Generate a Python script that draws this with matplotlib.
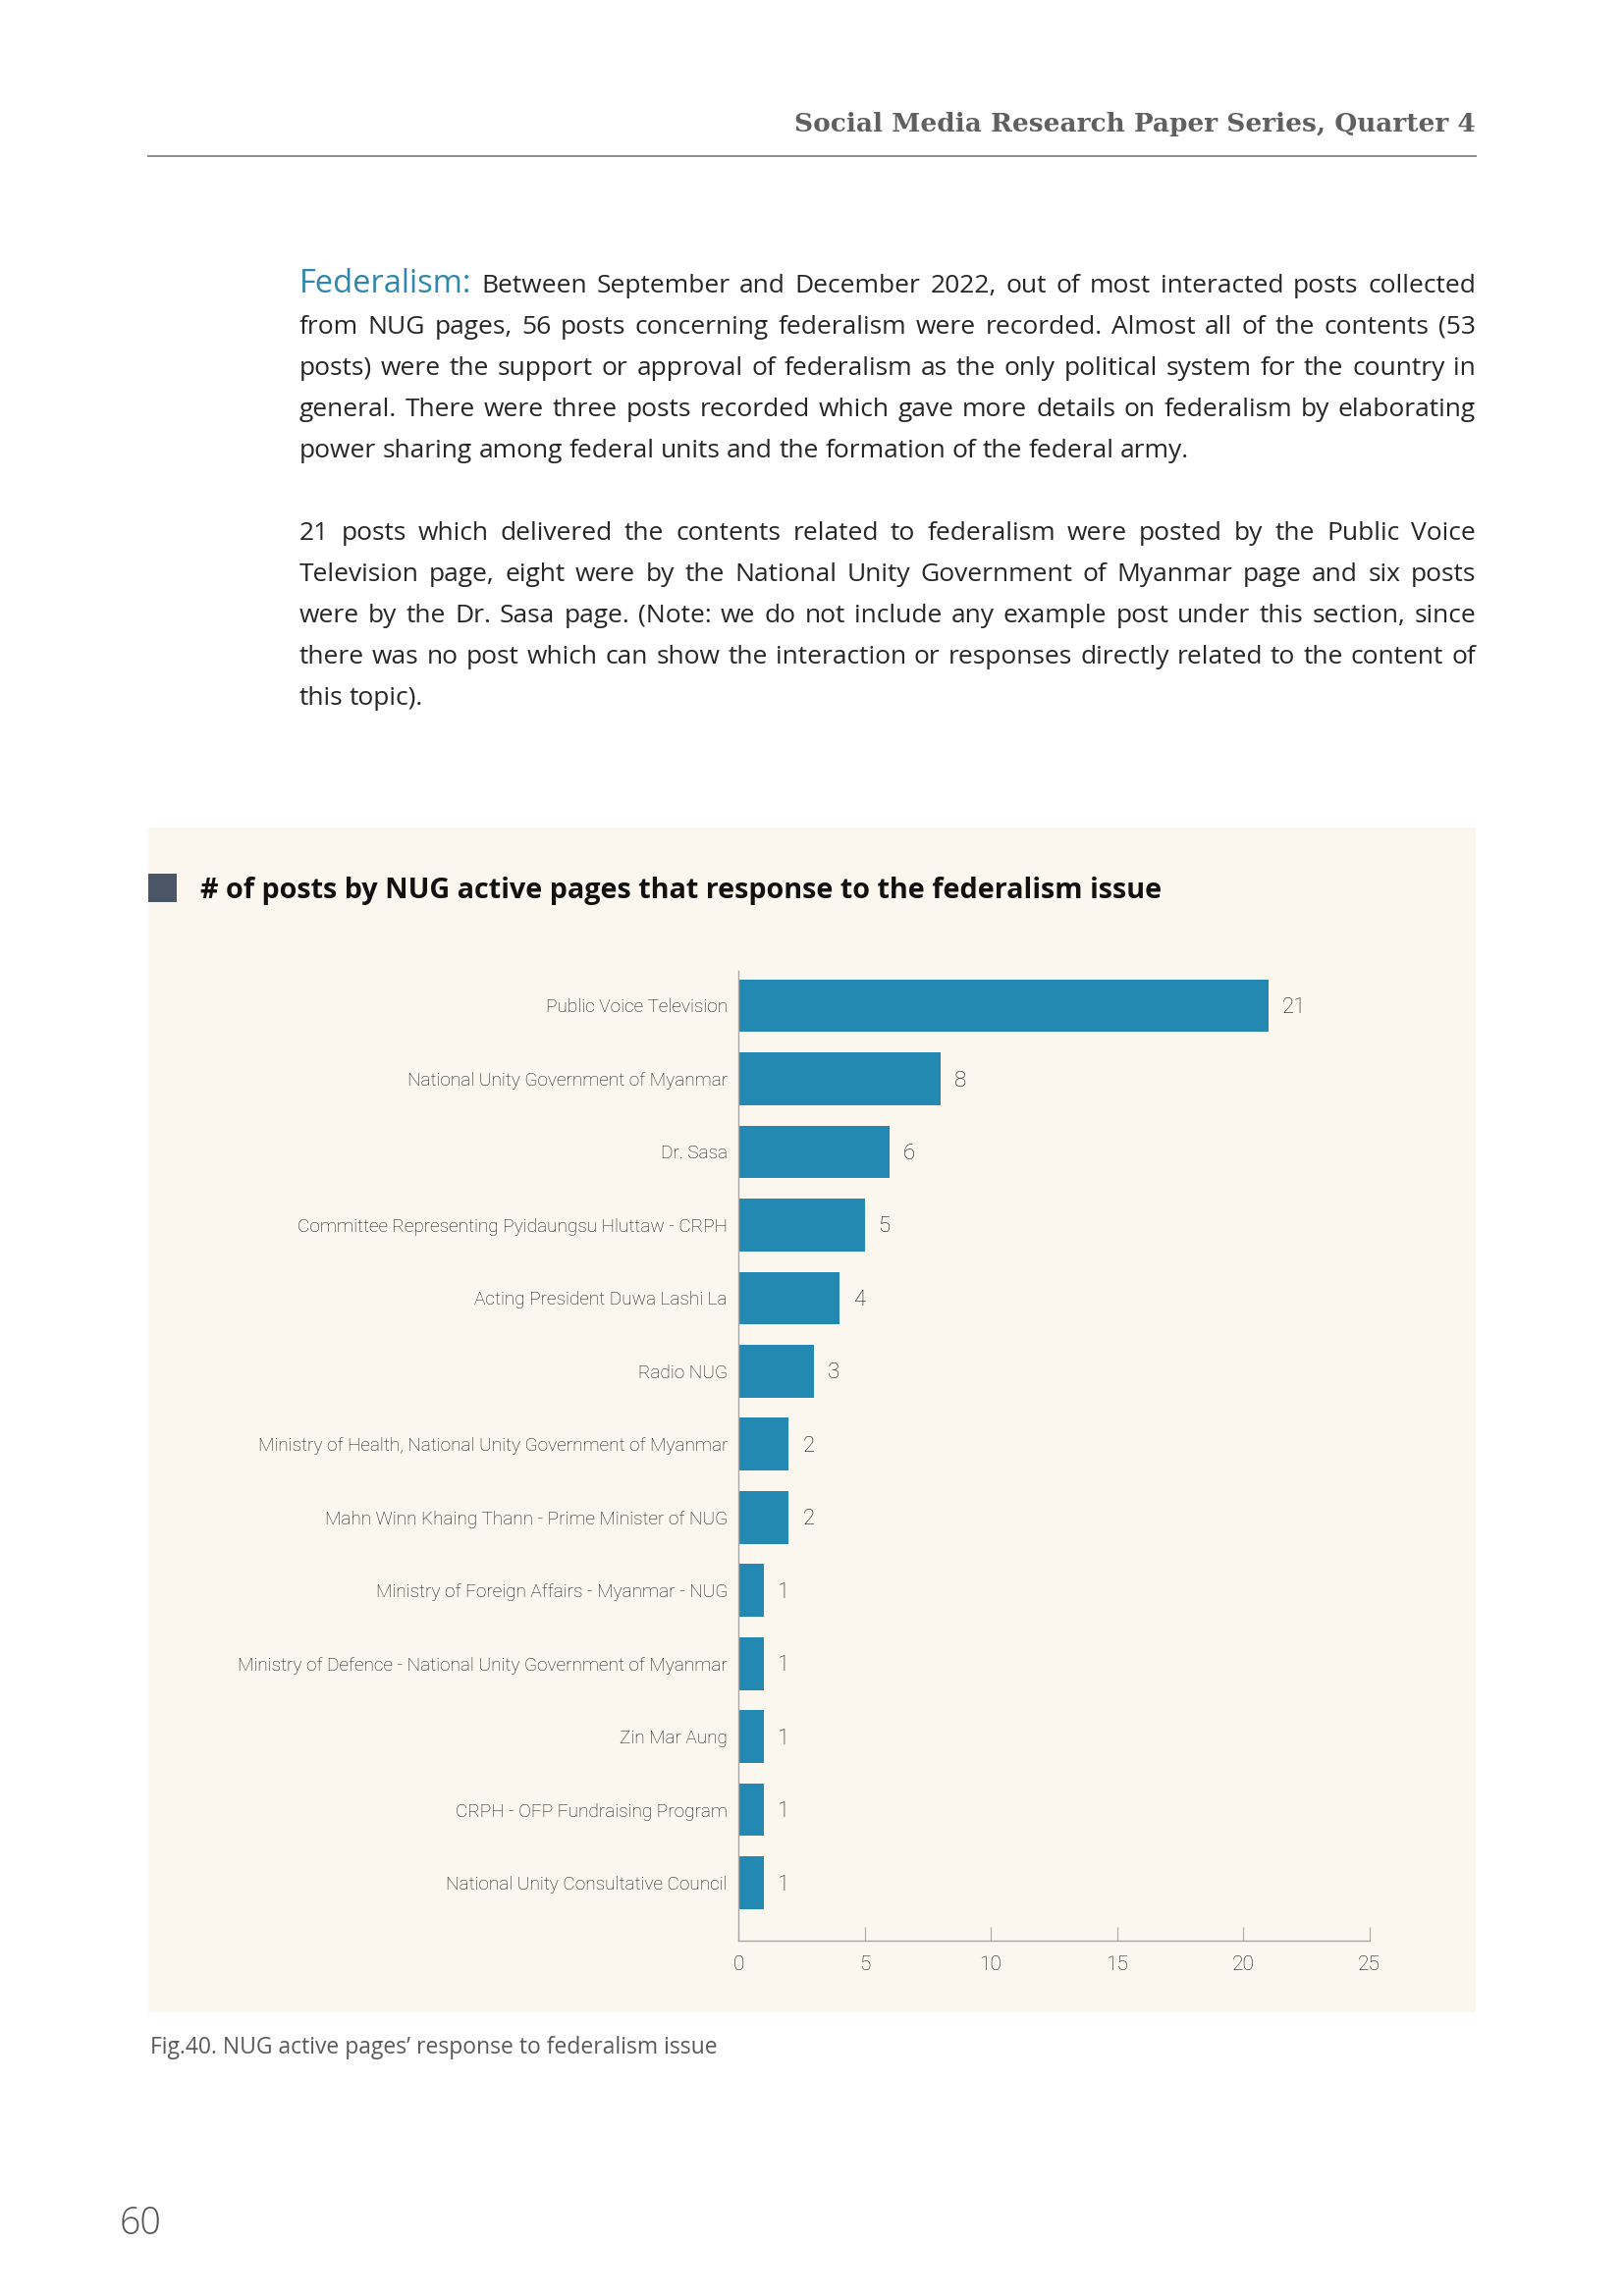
import matplotlib
matplotlib.use("Agg")
import matplotlib.pyplot as plt
from matplotlib.patches import Rectangle
from matplotlib.lines import Line2D

# chart data
pages = [
    "Public Voice Television",
    "National Unity Government of Myanmar",
    "Dr. Sasa",
    "Committee Representing Pyidaungsu Hluttaw - CRPH",
    "Acting President Duwa Lashi La",
    "Radio NUG",
    "Ministry of Health, National Unity Government of Myanmar",
    "Mahn Winn Khaing Thann - Prime Minister of NUG",
    "Ministry of Foreign Affairs - Myanmar - NUG",
    "Ministry of Defence - National Unity Government of Myanmar",
    "Zin Mar Aung",
    "CRPH - OFP Fundraising Program",
    "National Unity Consultative Council",
]
posts = [21, 8, 6, 5, 4, 3, 2, 2, 1, 1, 1, 1, 1]
x_ticks = [0, 5, 10, 15, 20, 25]

header = "Social Media Research Paper Series, Quarter 4"
chart_title = "# of posts by NUG active pages that response to the federalism issue"
caption = "Fig.40. NUG active pages\u2019 response to federalism issue"
page_no = "60"

para1 = [
    "Between September and December 2022, out of most interacted posts collected",
    "from NUG pages, 56 posts concerning federalism were recorded. Almost all of the contents (53",
    "posts) were the support or approval of federalism as the only political system for the country in",
    "general. There were three posts recorded which gave more details on federalism by elaborating",
    "power sharing among federal units and the formation of the federal army.",
]
para2 = [
    "21 posts which delivered the contents related to federalism were posted by the Public Voice",
    "Television page, eight were by the National Unity Government of Myanmar page and six posts",
    "were by the Dr. Sasa page. (Note: we do not include any example post under this section, since",
    "there was no post which can show the interaction or responses directly related to the content of",
    "this topic).",
]

W, H = 1654, 2339
BAR = "#2389B2"
TXT = "#262626"
SANS = ["Open Sans", "DejaVu Sans"]

plt.rcParams["font.family"] = SANS

fig = plt.figure(figsize=(W / 100, H / 100), dpi=100)
fig.patch.set_facecolor("white")


def fx(px):
    return px / W


def fy(py):
    return 1 - py / H


# header + rule
fig.text(fx(1503), fy(134), header, ha="right", va="baseline",
         family="DejaVu Serif", weight="bold", fontsize=19, color="#606060")
fig.add_artist(Line2D([fx(151), fx(1503)], [fy(159), fy(159)],
                      color="#8a8a8a", lw=1.4))

# justified body text
renderer = fig.canvas.get_renderer()
body = dict(fontsize=19, color=TXT, family=SANS)
lead = dict(fontsize=23.5, color="#2E87AE", family=SANS)


def put_line(words, base, x0, x1, justify):
    arts = [fig.text(0, fy(base), w, va="baseline", **p) for w, p in words]
    widths = [a.get_window_extent(renderer).width for a in arts]
    if justify and len(arts) > 1:
        gap = (x1 - x0 - sum(widths)) / (len(arts) - 1)
    else:
        gap = 6.5
    x = x0
    for a, wd in zip(arts, widths):
        a.set_x(fx(x))
        x += wd + gap


def put_para(lines, base0, first_word=None):
    for i, line in enumerate(lines):
        words = [(w, body) for w in line.split()]
        if i == 0 and first_word:
            words = [(first_word, lead)] + words
        put_line(words, base0 + 42 * i, 305, 1503, i < len(lines) - 1)


put_para(para1, 298, "Federalism:")
put_para(para2, 550)

# chart panel
fig.patches.append(Rectangle((fx(151), fy(2050)), (1503 - 151) / W, (2050 - 843) / H,
                             transform=fig.transFigure, facecolor="#FBF7EE",
                             edgecolor="none", zorder=0))
fig.patches.append(Rectangle((fx(151), fy(919)), 29 / W, 29 / H,
                             transform=fig.transFigure, facecolor="#4A5666",
                             edgecolor="none", zorder=1))
fig.text(fx(204), fy(915), chart_title, va="baseline", fontsize=20.7,
         weight="bold", color="#111111")

ax = fig.add_axes([fx(752), fy(1977), (1394.5 - 752) / W, (1977 - 989) / H])
ax.set_zorder(3)
ax.patch.set_alpha(0)
ypos = list(range(len(pages)))
ax.barh(ypos, posts, height=0.72, color=BAR)
ax.set_xlim(0, 25)
ax.set_ylim(len(pages) - 0.21, -0.476)

for y, v in zip(ypos, posts):
    ax.annotate(str(v), (v, y), xytext=(10, -1.5), textcoords="offset points",
                va="center", ha="left", fontsize=16, color="#111111",
                family="Roboto", weight="light")

ax.set_yticks(ypos)
ax.set_yticklabels(pages, family="Roboto", fontsize=13.7, color="#111111",
                   weight="light")
ax.set_xticks(x_ticks)
ax.tick_params(axis="y", length=0, pad=8)
ax.tick_params(axis="x", direction="in", length=10, color="#A8A8A8", pad=11,
               labelsize=15, labelcolor="#111111")
for lab in ax.get_xticklabels():
    lab.set_family("Roboto")
    lab.set_weight("light")
for s in ["top", "right"]:
    ax.spines[s].set_visible(False)
for s in ["left", "bottom"]:
    ax.spines[s].set_color("#A8A8A8")
    ax.spines[s].set_linewidth(1)

# caption and page number
fig.text(fx(153), fy(2092), caption, va="baseline", fontsize=16.5, color="#5a5a5a")
fig.text(fx(122), fy(2276), page_no, va="baseline", fontsize=27, color="#555555",
         weight="light")

fig.savefig("out.png", dpi=100)
